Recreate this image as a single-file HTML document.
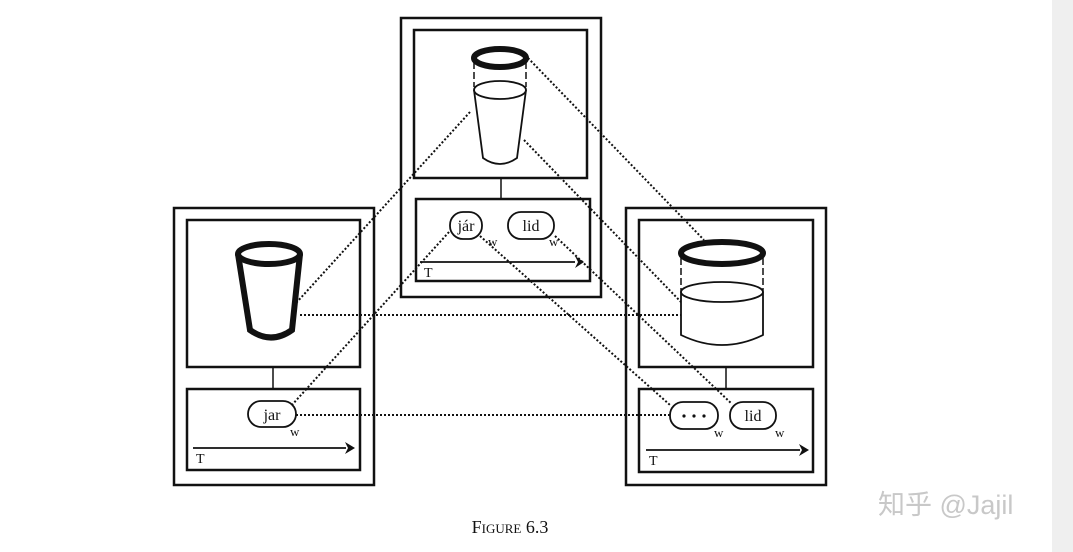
<!DOCTYPE html>
<html><head><meta charset="utf-8"><style>
body{margin:0;background:#fff;}
svg{display:block}
</style></head><body>
<svg width="1073" height="552" viewBox="0 0 1073 552" xmlns="http://www.w3.org/2000/svg" font-family="Liberation Serif, serif">
<rect x="1052" y="0" width="21" height="552" fill="#efefef"/>
<g fill="none" stroke="#111">
<!-- top panel -->
<rect x="401" y="18" width="200" height="279" stroke-width="2.5"/>
<rect x="414" y="30" width="173" height="148" stroke-width="2.5"/>
<line x1="501" y1="178" x2="501" y2="199" stroke-width="1.5"/>
<rect x="416" y="199" width="174" height="82" stroke-width="2.5"/>
<!-- left panel -->
<rect x="174" y="208" width="200" height="277" stroke-width="2.5"/>
<rect x="187" y="220" width="173" height="147" stroke-width="2.5"/>
<line x1="273" y1="367" x2="273" y2="389" stroke-width="1.5"/>
<rect x="187" y="389" width="173" height="81" stroke-width="2.5"/>
<!-- right panel -->
<rect x="626" y="208" width="200" height="277" stroke-width="2.5"/>
<rect x="639" y="220" width="174" height="147" stroke-width="2.5"/>
<line x1="726" y1="367" x2="726" y2="389" stroke-width="1.5"/>
<rect x="639" y="389" width="174" height="83" stroke-width="2.5"/>

<!-- top glass -->
<ellipse cx="500" cy="58" rx="26" ry="9" stroke-width="6"/>
<line x1="474" y1="62" x2="474" y2="87" stroke-width="1.5" stroke-dasharray="7,3"/>
<line x1="526" y1="62" x2="526" y2="87" stroke-width="1.5" stroke-dasharray="7,3"/>
<ellipse cx="500" cy="90" rx="26" ry="9" stroke-width="1.8"/>
<path d="M474 90 L483 158 Q500 170 517 158 L526 90" stroke-width="1.8"/>

<!-- left glass -->
<ellipse cx="269" cy="254" rx="31" ry="10" stroke-width="6"/>
<path d="M238 254 L250 330 Q271 345 292 330 L300 254" stroke-width="6"/>

<!-- right glass -->
<ellipse cx="722" cy="253" rx="41" ry="11" stroke-width="6"/>
<line x1="681" y1="258" x2="681" y2="292" stroke-width="1.5" stroke-dasharray="7,3"/>
<line x1="763" y1="258" x2="763" y2="292" stroke-width="1.5" stroke-dasharray="7,3"/>
<ellipse cx="722" cy="292" rx="41" ry="10" stroke-width="1.8"/>
<path d="M681 292 L681 335 Q722 355 763 335 L763 292" stroke-width="1.8"/>

<!-- pills -->
<rect x="450" y="212" width="32" height="27" rx="13" stroke-width="1.8"/>
<rect x="508" y="212" width="46" height="27" rx="13" stroke-width="1.8"/>
<rect x="248" y="401" width="48" height="26" rx="13" stroke-width="1.8"/>
<rect x="670" y="402" width="48" height="27" rx="13" stroke-width="1.8"/>
<rect x="730" y="402" width="46" height="27" rx="13" stroke-width="1.8"/>

<!-- arrows -->
<line x1="420" y1="262" x2="575" y2="262" stroke-width="1.8"/>
<line x1="193" y1="448" x2="346" y2="448" stroke-width="1.8"/>
<line x1="646" y1="450" x2="800" y2="450" stroke-width="1.8"/>

<!-- dotted connectors -->
<g stroke-width="2" stroke-dasharray="2,2">
<line x1="528" y1="58" x2="704" y2="240"/>
<line x1="470" y1="112" x2="297" y2="302"/>
<line x1="524" y1="140" x2="681" y2="302"/>
<line x1="449" y1="232" x2="291" y2="406"/>
<line x1="480" y1="236" x2="670" y2="405"/>
<line x1="555" y1="236" x2="732" y2="404"/>
<line x1="300" y1="315" x2="681" y2="315"/>
<line x1="296" y1="415" x2="670" y2="415"/>
</g>
</g>
<g fill="#111">
<path d="M575 256 L584 262 L575 268 L578 262 Z"/>
<path d="M345 442 L355 448 L345 454 L348 448 Z"/>
<path d="M799 444 L809 450 L799 456 L802 450 Z"/>
<circle cx="684" cy="416" r="1.6"/><circle cx="694" cy="416" r="1.6"/><circle cx="704" cy="416" r="1.6"/>
</g>
<g fill="#111" font-size="16">
<text x="466" y="231" text-anchor="middle">jár</text>
<text x="531" y="231" text-anchor="middle">lid</text>
<text x="272" y="420" text-anchor="middle">jar</text>
<text x="753" y="421" text-anchor="middle">lid</text>
<text x="424" y="277" font-size="14">T</text>
<text x="196" y="463" font-size="14">T</text>
<text x="649" y="465" font-size="14">T</text>
<g font-size="13"><text x="488" y="246">w</text><text x="549" y="246">w</text><text x="290" y="436">w</text><text x="714" y="437">w</text><text x="775" y="437">w</text></g>
<text x="510" y="533" text-anchor="middle" font-size="18">F<tspan font-size="13">IGURE</tspan> 6.3</text>
</g>
<text x="878" y="514" font-family="Liberation Sans, Noto Sans CJK SC, sans-serif" font-size="27" fill="#c8c8c8">知乎 @Jajil</text>
</svg>
</body></html>
